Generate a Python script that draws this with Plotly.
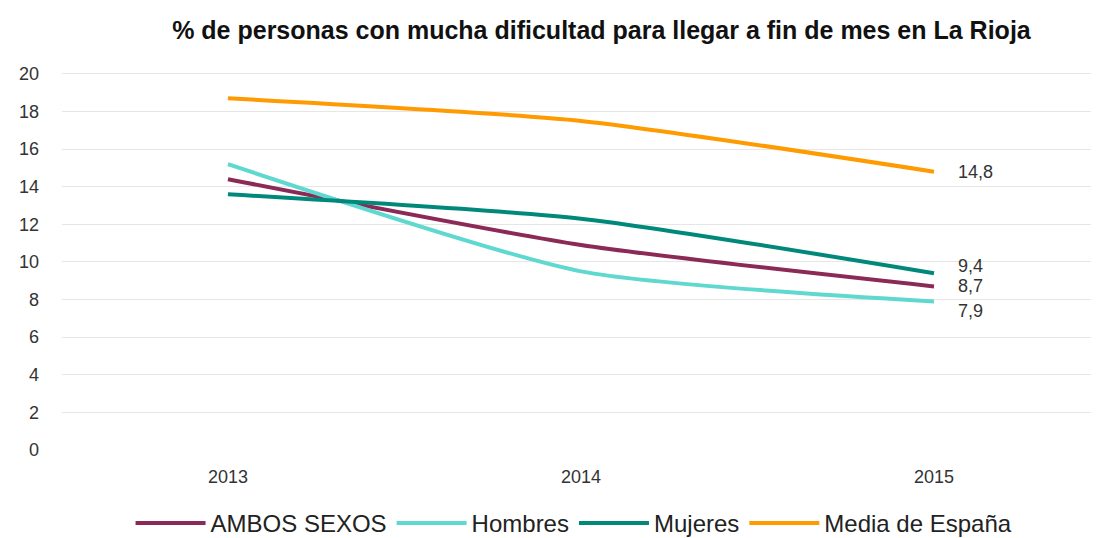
import plotly.graph_objects as go

years = ["2013", "2014", "2015"]
series_names = ["AMBOS SEXOS", "Hombres", "Mujeres", "Media de España"]
ambos = [14.4, 10.9, 8.7]
hombres = [15.2, 9.5, 7.9]
mujeres = [13.6, 12.3, 9.4]
media = [18.7, 17.5, 14.8]
y_ticks = [0, 2, 4, 6, 8, 10, 12, 14, 16, 18, 20]

values = [ambos, hombres, mujeres, media]
colors = ["#8c2a57", "#5fd8cf", "#00897b", "#ff9a00"]
label_shift = [0, -10, 7, 0]

fig = go.Figure()
for name, vals, col in zip(series_names, values, colors):
    fig.add_trace(go.Scatter(
        x=years, y=vals, name=name, mode="lines",
        line=dict(color=col, width=4, shape="spline", smoothing=0.6),
    ))

last = len(years) - 1
for vals, sh in zip(values, label_shift):
    fig.add_annotation(
        x=last, y=vals[-1], xref="x", yref="y",
        text=f"{vals[-1]:.1f}".replace(".", ","),
        showarrow=False, xanchor="left", xshift=22, yshift=sh,
        font=dict(size=18, color="#333333"),
    )

fig.update_layout(
    width=1099, height=538,
    margin=dict(l=54, r=0, t=64, b=87),
    paper_bgcolor="white", plot_bgcolor="white",
    font=dict(family="Liberation Sans, Arial, sans-serif", color="#333333"),
    title=dict(
        text="<b>% de personas con mucha dificultad para llegar a fin de mes en La Rioja</b>",
        x=0.54, xanchor="center", y=0.958, yanchor="middle",
        font=dict(size=25, color="#111111"),
    ),
    xaxis=dict(
        type="category",
        range=[-0.47, 2.49], showgrid=False, zeroline=False, showline=False,
        tickfont=dict(size=18, color="#333333"), ticklabelstandoff=14,
    ),
    yaxis=dict(
        range=[0, 20.1], tickvals=y_ticks, showgrid=True, gridcolor="#e6e6e6",
        gridwidth=1, zeroline=False, showline=False,
        tickfont=dict(size=18, color="#333333"), ticklabelstandoff=22,
    ),
    legend=dict(
        orientation="h", x=0.49, xanchor="center", y=-0.196, yanchor="middle",
        font=dict(size=24, color="#222222"), itemwidth=70,
    ),
    showlegend=True,
)

fig.write_html("out.html")
